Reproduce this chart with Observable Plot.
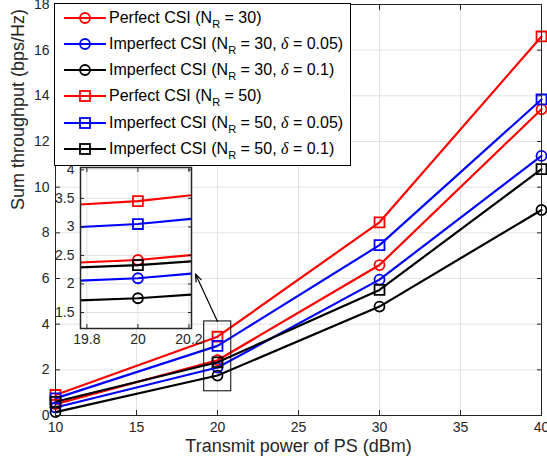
<!DOCTYPE html>
<html><head><meta charset="utf-8">
<script src="https://cdn.jsdelivr.net/npm/d3@7"></script>
<script src="https://cdn.jsdelivr.net/npm/@observablehq/plot@0.6"></script>
<style>
body{margin:0;background:#fff;}
#wrap{position:relative;width:547px;height:461px;overflow:hidden;font-family:"Liberation Sans",Arial,Helvetica,sans-serif;}
#wrap > svg, #wrap > div {position:absolute;}
.lg{box-sizing:border-box;background:#fff;border:1px solid #000;}
.row{position:absolute;left:0;height:26px;line-height:26px;white-space:nowrap;font-size:16px;color:#000;}
.row svg{position:absolute;left:0;top:0;}
.row .t{position:absolute;left:54px;top:0;}
.row sub{font-size:11px;vertical-align:-5px;line-height:0;}
.row i{font-family:"Liberation Serif","Times New Roman",serif;font-style:italic;}
</style></head><body><div id="wrap"></div>
<script>
// ---- data ----
const power = [10, 20, 30, 40];                       // Transmit power of PS (dBm)
const perfect30   = [0.50, 2.42, 6.59, 13.41];
const imperf30_05 = [0.35, 2.10, 5.95, 11.37];
const imperf30_10 = [0.15, 1.75, 4.77, 9.00];
const perfect50   = [0.90, 3.45, 8.46, 16.60];
const imperf50_05 = [0.75, 3.05, 7.46, 13.84];
const imperf50_10 = [0.60, 2.33, 5.50, 10.79];
const csiType  = ["Perfect", "Imperfect", "Imperfect", "Perfect", "Imperfect", "Imperfect"];
const nR       = [30, 30, 30, 50, 50, 50];
const deltas   = [null, 0.05, 0.1, null, 0.05, 0.1];
const colors   = ["#ff0000", "#0000ff", "#000000", "#ff0000", "#0000ff", "#000000"];
const symbols  = ["circle", "circle", "circle", "square", "square", "square"];
const xTicks = [10, 15, 20, 25, 30, 35, 40];
const yTicks = [0, 2, 4, 6, 8, 10, 12, 14, 16, 18];
const insetXTicks = [19.8, 20, 20.2];
const insetYTicks = [1.5, 2, 2.5, 3, 3.5, 4];
const zoomBox = {x1: 19.18, x2: 20.85, y1: 1.06, y2: 4.12};
const arrowPts = {x1: 20, y1: 4.12, x2: 18.64, y2: 6.2};
const xLabel = "Transmit power of PS (dBm)";
const yLabel = "Sum throughput (bps/Hz)";

const allSeries = [perfect30, imperf30_05, imperf30_10, perfect50, imperf50_05, imperf50_10];
const rows = allSeries.map(vals => power.map((x, j) => ({x, y: vals[j]})));

const FONT = '"Liberation Sans",Arial,Helvetica,sans-serif';
const GRID = "#e2e2e2";
const AX = "#262626";

function seriesMarks(clip) {
  const m = [];
  rows.forEach((d, i) => {
    m.push(Plot.line(d, {x: "x", y: "y", stroke: colors[i], strokeWidth: 2.2, clip}));
    m.push(Plot.dot(d, {x: "x", y: "y", symbol: symbols[i], r: symbols[i] === "square" ? 5.6 : 5,
      stroke: colors[i], strokeWidth: 1.8, fill: "none", clip}));
  });
  return m;
}

const main = Plot.plot({
  width: 547, height: 461,
  marginLeft: 55, marginRight: 6, marginTop: 4, marginBottom: 46,
  style: {fontFamily: FONT, fontSize: "14px", color: AX, background: "#fff", overflow: "visible"},
  x: {domain: [10, 40]},
  y: {domain: [0, 18]},
  marks: [
    Plot.gridX(xTicks, {stroke: GRID, strokeOpacity: 1}),
    Plot.gridY(yTicks, {stroke: GRID, strokeOpacity: 1}),
    ...seriesMarks(false),
    Plot.rect([zoomBox], {x1: "x1", x2: "x2", y1: "y1", y2: "y2", fill: "none", stroke: "#000", strokeWidth: 1}),
    Plot.arrow([arrowPts], {x1: "x1", y1: "y1", x2: "x2", y2: "y2", stroke: "#000", strokeWidth: 1.2, headLength: 10, headAngle: 40}),
    Plot.axisX(xTicks, {anchor: "bottom", tickSize: -5, tickPadding: 12, label: null, tickFormat: d => String(d)}),
    Plot.axisX(xTicks, {anchor: "top", tickSize: -5, label: null, tickFormat: () => ""}),
    Plot.axisY(yTicks, {anchor: "left", tickSize: -5, tickPadding: 11, label: null, tickFormat: d => String(d)}),
    Plot.axisY(yTicks, {anchor: "right", tickSize: -5, label: null, tickFormat: () => ""}),
    Plot.frame({stroke: AX, strokeWidth: 1}),
    Plot.text([xLabel], {frameAnchor: "bottom", dy: 36, fontSize: 18, fill: AX}),
    Plot.text([yLabel], {frameAnchor: "left", rotate: -90, dx: -37, fontSize: 18, fill: AX})
  ]
});
main.style.left = "0px"; main.style.top = "0px";

const inset = Plot.plot({
  width: 146, height: 186,
  marginLeft: 30, marginRight: 5, marginTop: 3, marginBottom: 22,
  style: {fontFamily: FONT, fontSize: "14px", color: AX, background: "transparent", overflow: "visible"},
  x: {domain: [19.775, 20.21]},
  y: {domain: [1.22, 4.04]},
  marks: [
    Plot.frame({fill: "#fff", stroke: "none"}),
    Plot.gridX(insetXTicks, {stroke: GRID, strokeOpacity: 1}),
    Plot.gridY(insetYTicks, {stroke: GRID, strokeOpacity: 1}),
    ...seriesMarks(true),
    Plot.axisX(insetXTicks, {anchor: "bottom", tickSize: -4, tickPadding: 10, label: null, tickFormat: d => String(d)}),
    Plot.axisX(insetXTicks, {anchor: "top", tickSize: -4, label: null, tickFormat: () => ""}),
    Plot.axisY(insetYTicks, {anchor: "left", tickSize: -4, tickPadding: 10, label: null, tickFormat: d => String(d)}),
    Plot.axisY(insetYTicks, {anchor: "right", tickSize: -4, label: null, tickFormat: () => ""}),
    Plot.frame({stroke: AX, strokeWidth: 1.5})
  ]
});
inset.style.left = "50px"; inset.style.top = "164px";

const wrap = document.getElementById("wrap");
wrap.appendChild(main);
wrap.appendChild(inset);

// ---- legend ----
const lg = document.createElement("div");
lg.className = "lg";
Object.assign(lg.style, {left: "54px", top: "3px", width: "297px", height: "163px"});
csiType.forEach((c, i) => {
  const row = document.createElement("div");
  row.className = "row";
  row.style.top = (16.5 + 26.3 * i - 3 - 13) + "px";
  row.style.width = "290px";
  const svg = d3.create("svg").attr("width", 52).attr("height", 26);
  svg.append("line").attr("x1", 9).attr("x2", 51).attr("y1", 13).attr("y2", 13)
    .attr("stroke", colors[i]).attr("stroke-width", 2.2);
  if (symbols[i] === "circle") {
    svg.append("circle").attr("cx", 30).attr("cy", 13).attr("r", 5)
      .attr("fill", "none").attr("stroke", colors[i]).attr("stroke-width", 1.8);
  } else {
    svg.append("rect").attr("x", 25).attr("y", 8).attr("width", 10).attr("height", 10)
      .attr("fill", "none").attr("stroke", colors[i]).attr("stroke-width", 1.8);
  }
  row.appendChild(svg.node());
  const t = document.createElement("span");
  t.className = "t";
  t.innerHTML = `${c} CSI (N<sub>R</sub> = ${nR[i]}` + (deltas[i] === null ? ")" : `, <i>δ</i> = ${deltas[i]})`);
  row.appendChild(t);
  lg.appendChild(row);
});
wrap.appendChild(lg);
</script></body></html>
